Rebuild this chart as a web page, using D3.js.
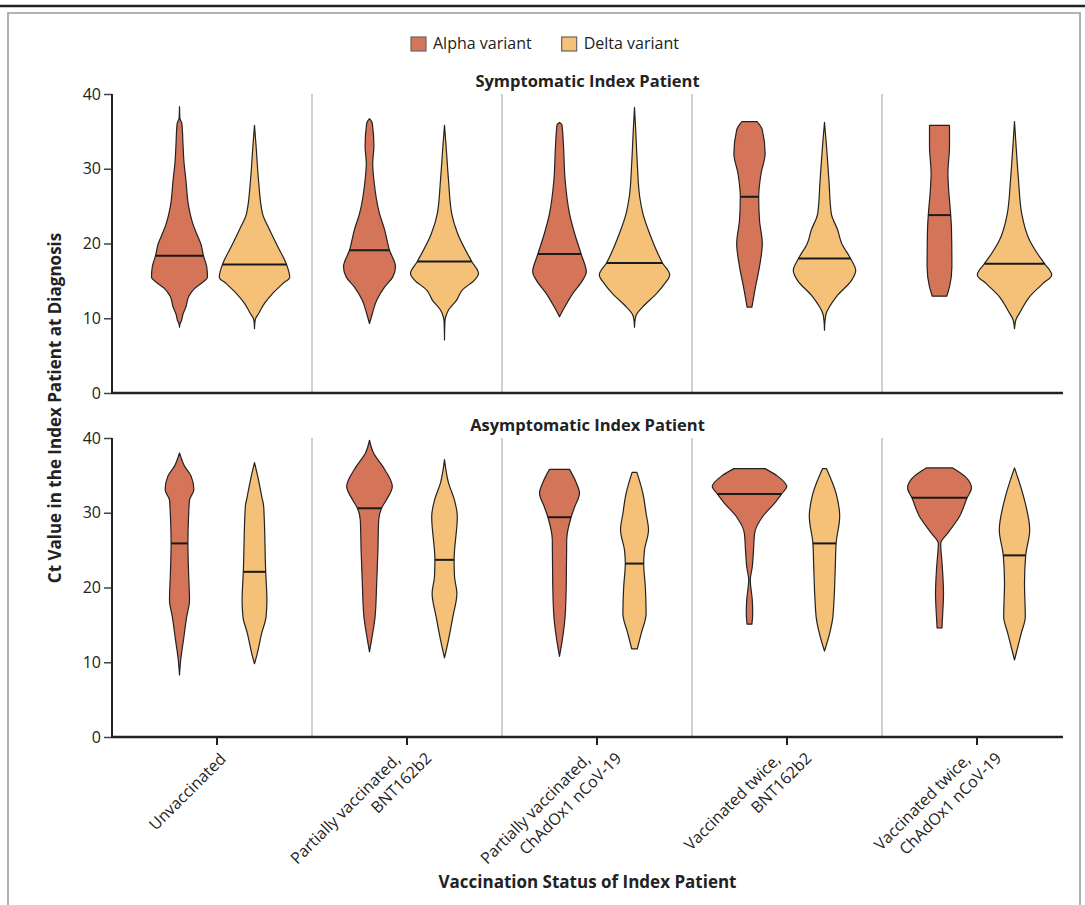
<!doctype html>
<html>

<head>
  <meta charset="utf-8">
  <title>Ct value by vaccination status</title>
  <style>
    body { margin: 0; background: #fff; }
    svg text { font-family: 'Open Sans', sans-serif; fill: #222; }
  </style>
</head>

<body>
  <div id="chart"></div>
  <script src="https://cdn.jsdelivr.net/npm/d3@7"></script>
  <script>
    const groups = ['unvacc', 'partialBnt', 'partialChad', 'twiceBnt', 'twiceChad'];
    const groupLabels = [
      ['Unvaccinated'],
      ['Partially vaccinated,', 'BNT162b2'],
      ['Partially vaccinated,', 'ChAdOx1 nCoV-19'],
      ['Vaccinated twice,', 'BNT162b2'],
      ['Vaccinated twice,', 'ChAdOx1 nCoV-19']
    ];
    const variants = ['Alpha variant', 'Delta variant'];
    const panelTitles = ['Symptomatic Index Patient', 'Asymptomatic Index Patient'];
    const yTicks = [0, 10, 20, 30, 40];

    // violin outlines: [ct value, relative density], one profile per group
    const symAlpha = [
      [[38.3, 0], [36.8, 0.01], [36, 0.06], [33, 0.09], [31, 0.11], [28.5, 0.16], [24.9, 0.23], [22.7, 0.33], [20.9, 0.46], [20, 0.53], [18.35, 0.6], [16.9, 0.68], [15.5, 0.7], [14.9, 0.6], [14, 0.38], [12.9, 0.23], [11.5, 0.16], [10.6, 0.09], [9.7, 0.05], [9.2, 0.01], [8.8, 0]],
      [[36.7, 0], [36.1, 0.07], [33, 0.11], [30.7, 0.08], [28.5, 0.11], [24, 0.25], [21.8, 0.38], [19.1, 0.5], [16.9, 0.65], [15.5, 0.58], [14.2, 0.38], [12.4, 0.18], [10.6, 0.07], [9.3, 0]],
      [[36.2, 0], [35.9, 0.06], [33, 0.1], [28.5, 0.14], [24, 0.25], [21.3, 0.38], [18.6, 0.54], [16.2, 0.67], [15.1, 0.58], [13.3, 0.33], [11.5, 0.13], [10.2, 0]],
      [[36.3, 0.19], [35.2, 0.32], [32, 0.39], [29.4, 0.29], [26.25, 0.23], [23.1, 0.25], [20, 0.32], [16.9, 0.25], [14.2, 0.15], [11.5, 0.06]],
      [[35.8, 0.25], [33, 0.25], [29.4, 0.21], [27.1, 0.23], [23.8, 0.28], [21.8, 0.3], [16.9, 0.31], [14.2, 0.25], [12.95, 0.18]]
    ];
    const symDelta = [
      [[35.8, 0], [33, 0.04], [28.5, 0.1], [24, 0.2], [21.8, 0.38], [19.6, 0.58], [17.2, 0.8], [15.5, 0.88], [14.6, 0.7], [13.3, 0.45], [12, 0.25], [10.6, 0.1], [10, 0.03], [9.5, 0.01], [8.6, 0]],
      [[35.8, 0], [33, 0.04], [28.5, 0.1], [24, 0.18], [21.3, 0.33], [17.6, 0.68], [16, 0.85], [15.1, 0.75], [13.8, 0.45], [12.4, 0.3], [11.1, 0.1], [10.2, 0.03], [9.5, 0.01], [7.1, 0]],
      [[38.2, 0], [35.2, 0.03], [30.7, 0.07], [26.25, 0.13], [24, 0.21], [21.3, 0.38], [17.4, 0.7], [15.8, 0.88], [14.6, 0.75], [13.3, 0.55], [11.5, 0.2], [10.6, 0.06], [10, 0.02], [8.8, 0]],
      [[36.2, 0], [33, 0.05], [28.5, 0.11], [24, 0.17], [21.8, 0.33], [20, 0.43], [18, 0.65], [16.4, 0.78], [15.1, 0.68], [12.9, 0.3], [10.6, 0.04], [9.5, 0.01], [8.4, 0]],
      [[36.3, 0], [33, 0.04], [28.5, 0.1], [24, 0.18], [20.4, 0.38], [18.6, 0.58], [17.3, 0.75], [15.8, 0.93], [14.6, 0.7], [12.9, 0.38], [11.1, 0.17], [9.7, 0.03], [8.6, 0]]
    ];
    const asymAlpha = [
      [[38, 0], [36.2, 0.13], [34.9, 0.29], [33.1, 0.36], [31.7, 0.25], [29.9, 0.23], [25.9, 0.21], [21.5, 0.23], [18.3, 0.25], [16.1, 0.18], [13, 0.1], [10.3, 0.03], [8.3, 0]],
      [[39.7, 0], [38, 0.1], [36.2, 0.33], [33.5, 0.57], [31.7, 0.42], [30.6, 0.3], [29, 0.23], [25, 0.21], [20.6, 0.18], [16.1, 0.14], [13.9, 0.08], [11.4, 0]],
      [[35.8, 0.25], [34, 0.42], [32.6, 0.5], [30.8, 0.38], [29.4, 0.29], [26.4, 0.18], [20.6, 0.17], [16.1, 0.14], [13, 0.07], [10.8, 0]],
      [[35.9, 0.39], [34.9, 0.7], [33.5, 0.93], [32.5, 0.8], [31.3, 0.63], [29.5, 0.33], [27.3, 0.13], [25, 0.1], [22.8, 0.07], [21, 0.02], [18.3, 0.07], [16.5, 0.08], [15.1, 0.06]],
      [[36, 0.33], [34.9, 0.63], [33.3, 0.8], [32, 0.69], [29.5, 0.5], [27.3, 0.21], [25.9, 0.03], [22.8, 0.07], [19.2, 0.1], [16.5, 0.08], [14.6, 0.06]]
    ];
    const asymDelta = [
      [[36.7, 0], [34.9, 0.08], [32.2, 0.18], [30.8, 0.23], [22.1, 0.28], [18.3, 0.31], [16.1, 0.29], [13.9, 0.18], [11.2, 0.07], [9.8, 0]],
      [[37.1, 0], [34, 0.1], [31.7, 0.25], [29.5, 0.32], [23.7, 0.24], [21.5, 0.25], [19.2, 0.31], [16.1, 0.21], [13, 0.1], [10.6, 0]],
      [[35.4, 0.06], [32.6, 0.21], [29.9, 0.29], [27.7, 0.35], [25, 0.25], [23.2, 0.23], [20.1, 0.27], [16.5, 0.29], [13.9, 0.17], [11.8, 0.07]],
      [[35.9, 0.05], [32.6, 0.29], [29.5, 0.38], [25.9, 0.29], [22.8, 0.27], [16.1, 0.21], [13.9, 0.13], [11.5, 0]],
      [[36, 0], [31.7, 0.25], [27.7, 0.38], [24.3, 0.28], [20.6, 0.25], [16.1, 0.27], [13.9, 0.17], [10.3, 0]]
    ];

    // medians per group
    const symAlphaMedian = [18.35, 19.1, 18.6, 26.25, 23.8];
    const symDeltaMedian = [17.2, 17.6, 17.4, 18, 17.3];
    const asymAlphaMedian = [25.9, 30.6, 29.4, 32.5, 32];
    const asymDeltaMedian = [22.1, 23.7, 23.2, 25.9, 24.3];

    const width = 1085;
    const height = 905;

    const svg = d3.select('#chart').append('svg')
      .attr('width', width)
      .attr('height', height);

    // frame
    svg.append('line')
      .attr('x1', 0).attr('x2', width).attr('y1', 6).attr('y2', 6)
      .attr('stroke', '#222').attr('stroke-width', 2.5);
    svg.append('rect')
      .attr('x', 8).attr('y', 13).attr('width', 1072).attr('height', height)
      .attr('fill', 'none').attr('stroke', '#999').attr('stroke-width', 1.5);

    const x = d3.scaleBand().domain(groups).range([122, 1072]);
    const xInner = d3.scalePoint().domain(variants).range([-37.5, 37.5]);
    const w = d3.scaleLinear().domain([0, 1]).range([0, 40]);
    const color = d3.scaleOrdinal().domain(variants).range(['#d47559', '#f5c078']);
    const axisLeft = 112;
    const axisRight = 1063;
    const cx = g => x(g) + x.bandwidth() / 2;

    // density at a given ct by linear interpolation of the outline
    const densityAt = (profile, v) => {
      for (let i = 0; i < profile.length - 1; i++) {
        const [a, da] = profile[i];
        const [b, db] = profile[i + 1];
        if (v <= a && v >= b) return da + (db - da) * (a - v) / (a - b);
      }
      return 0;
    };

    const panels = [
      { title: panelTitles[0], top: 94, bottom: 393, data: [symAlpha, symDelta], medians: [symAlphaMedian, symDeltaMedian], ticks: false },
      { title: panelTitles[1], top: 438, bottom: 737, data: [asymAlpha, asymDelta], medians: [asymAlphaMedian, asymDeltaMedian], ticks: true }
    ];

    panels.forEach(p => {
      const y = d3.scaleLinear().domain([0, 40]).range([p.bottom, p.top]);
      const g = svg.append('g');

      g.selectAll('.sep')
        .data(groups.slice(1))
        .join('line')
        .attr('x1', d => x(d)).attr('x2', d => x(d))
        .attr('y1', p.top).attr('y2', p.bottom)
        .attr('stroke', '#d0d0d0').attr('stroke-width', 2);

      g.append('text')
        .attr('x', (axisLeft + axisRight) / 2)
        .attr('y', p.top - 7)
        .attr('text-anchor', 'middle')
        .style('font-size', '16.5px')
        .style('font-weight', 700)
        .text(p.title);

      variants.forEach((v, vi) => {
        groups.forEach((grp, gi) => {
          const profile = p.data[vi][gi];
          const c = cx(grp) + xInner(v);
          const area = d3.area()
            .curve(d3.curveMonotoneY)
            .y(d => y(d[0]))
            .x0(d => c - w(d[1]))
            .x1(d => c + w(d[1]));
          g.append('path')
            .attr('d', area(profile))
            .attr('fill', color(v))
            .attr('stroke', '#222')
            .attr('stroke-width', 1.2)
            .attr('stroke-linejoin', 'round');

          const m = p.medians[vi][gi];
          const half = w(densityAt(profile, m));
          g.append('line')
            .attr('x1', c - half).attr('x2', c + half)
            .attr('y1', y(m)).attr('y2', y(m))
            .attr('stroke', '#1a1a1a').attr('stroke-width', 2);
        });
      });

      const yAxis = g.append('g')
        .attr('transform', `translate(${axisLeft},0)`)
        .call(d3.axisLeft(y).tickValues(yTicks).tickSize(8).tickPadding(3));
      yAxis.select('.domain').remove();
      yAxis.selectAll('.tick line').attr('stroke', '#444').attr('stroke-width', 1.5);
      yAxis.selectAll('.tick text')
        .style('font-size', '16px')
        .attr('fill', '#222');

      g.append('line')
        .attr('x1', axisLeft).attr('x2', axisLeft)
        .attr('y1', p.top).attr('y2', p.bottom + 1)
        .attr('stroke', '#222').attr('stroke-width', 2);
      g.append('line')
        .attr('x1', axisLeft).attr('x2', axisRight)
        .attr('y1', p.bottom).attr('y2', p.bottom)
        .attr('stroke', '#222').attr('stroke-width', 2.5);

      if (p.ticks) {
        g.selectAll('.xtick')
          .data(groups)
          .join('line')
          .attr('x1', d => cx(d)).attr('x2', d => cx(d))
          .attr('y1', p.bottom).attr('y2', p.bottom + 8)
          .attr('stroke', '#222').attr('stroke-width', 2);

        // rotated category labels
        const lab = g.selectAll('.xlab')
          .data(groups)
          .join('g')
          .attr('transform', d => `translate(${cx(d) + 10},${p.bottom + 23}) rotate(-45)`);
        lab.each(function (d, i) {
          const lines = groupLabels[i];
          const n = lines.length;
          d3.select(this).selectAll('text')
            .data(lines)
            .join('text')
            .attr('text-anchor', 'end')
            .attr('x', (t, k) => (k - (n - 1) / 2) * 23)
            .attr('y', (t, k) => (k - (n - 1) / 2) * 21)
            .style('font-size', '16px')
            .text(t => t);
        });
      }
    });

    // axis titles
    svg.append('text')
      .attr('transform', 'translate(55,408) rotate(-90)')
      .attr('text-anchor', 'middle')
      .attr('dy', '0.35em')
      .style('font-size', '17px')
      .style('font-weight', 700)
      .text('Ct Value in the Index Patient at Diagnosis');

    svg.append('text')
      .attr('x', (axisLeft + axisRight) / 2)
      .attr('y', 888)
      .attr('text-anchor', 'middle')
      .style('font-size', '17px')
      .style('font-weight', 700)
      .text('Vaccination Status of Index Patient');

    // legend
    const legend = svg.append('g').attr('transform', 'translate(411,36)');
    let lx = 0;
    variants.forEach(v => {
      const item = legend.append('g').attr('transform', `translate(${lx},0)`);
      item.append('rect')
        .attr('width', 15).attr('height', 14).attr('y', 1)
        .attr('fill', color(v))
        .attr('stroke', '#666').attr('stroke-width', 1.2);
      const t = item.append('text')
        .attr('x', 22).attr('y', 13)
        .style('font-size', '16px')
        .text(v);
      lx += 22 + t.node().getComputedTextLength() + 30;
    });
  </script>
</body>

</html>
